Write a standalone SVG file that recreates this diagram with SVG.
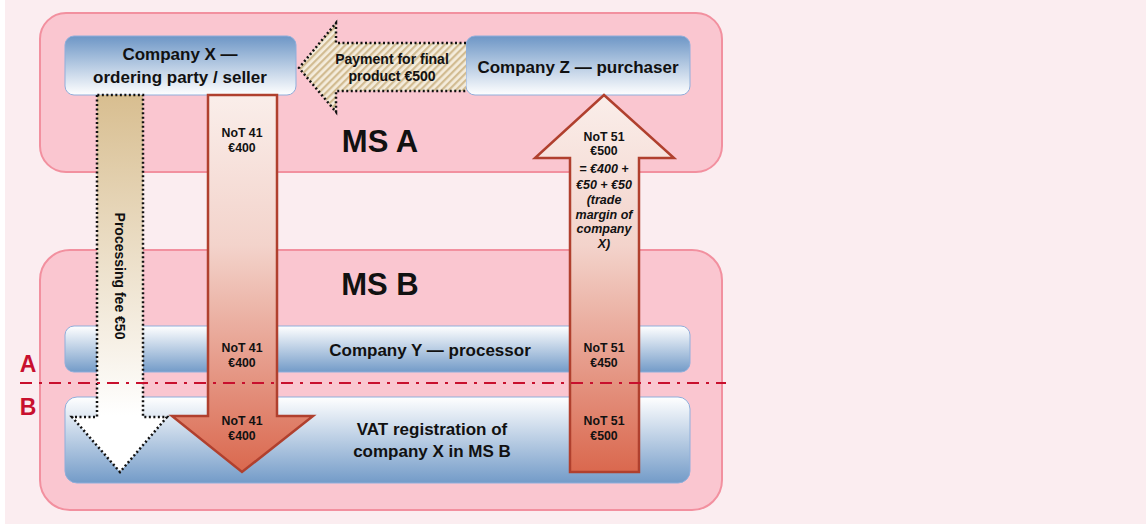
<svg xmlns="http://www.w3.org/2000/svg" width="1146" height="524" viewBox="0 0 1146 524">
<style>
text{font-family:"Liberation Sans",Arial,sans-serif;font-weight:bold;fill:#111;text-anchor:middle}
.ms{fill:#FAC6D0;stroke:#F2909F;stroke-width:2}
.nodeTop{fill:url(#gTop);stroke:#8FAEDB;stroke-width:1}
.nodeBot{fill:url(#gBot);stroke:#8FAEDB;stroke-width:1}
.big{font-size:17px}
.sm{font-size:12.3px}
.mid{font-size:14px}
.it{font-size:12.5px;font-style:italic}
.title{font-size:31px}
.red{stroke:#B0402E;stroke-width:2.5}
.dotted{stroke:#111;stroke-width:2.5;stroke-dasharray:2 2.5}
.lbl{font-size:23px;fill:#C8102E}
</style>
<defs>
<linearGradient id="gTop" x1="0" y1="0" x2="0" y2="1"><stop offset="0" stop-color="#6D96C6"/><stop offset="1" stop-color="#FFFFFF"/></linearGradient>
<linearGradient id="gBot" x1="0" y1="0" x2="0" y2="1"><stop offset="0" stop-color="#FFFFFF"/><stop offset="1" stop-color="#739BC8"/></linearGradient>
<linearGradient id="gRed" gradientUnits="userSpaceOnUse" x1="0" y1="95" x2="0" y2="472"><stop offset="0" stop-color="#FAEEEA"/><stop offset="0.4" stop-color="#F3D3CB"/><stop offset="1" stop-color="#DA684E"/></linearGradient>
<linearGradient id="gTan" gradientUnits="userSpaceOnUse" x1="0" y1="95" x2="0" y2="472"><stop offset="0" stop-color="#D8BE90"/><stop offset="0.85" stop-color="#FFFFFF"/><stop offset="1" stop-color="#FFFFFF"/></linearGradient>
<pattern id="hatch" width="5" height="5" patternUnits="userSpaceOnUse" patternTransform="rotate(45)"><rect width="5" height="5" fill="#F4ECDC"/><rect width="2.2" height="5" fill="#D2BC92"/></pattern>
</defs>
<rect x="5" y="0" width="1141" height="524" fill="#FBEDF0"/>
<g id="msA"><rect class="ms" x="40" y="13" width="682" height="159" rx="26"/><text class="title" x="380" y="152">MS A</text></g>
<g id="msB"><rect class="ms" x="40" y="250" width="682" height="260" rx="30"/><text class="title" x="380" y="295">MS B</text></g>
<g id="companyY"><rect class="nodeBot" x="65" y="326" width="625" height="46" rx="9"/><text class="big" x="430" y="356">Company Y — processor</text></g>
<g id="vatReg"><rect class="nodeBot" x="65" y="397" width="625" height="86" rx="12"/><text class="big" x="432" y="435">VAT registration of</text><text class="big" x="432" y="457">company X in MS B</text></g>
<g id="companyX"><rect class="nodeTop" x="65" y="36" width="231" height="59" rx="9"/><text class="big" x="180" y="60">Company X —</text><text class="big" x="180" y="83">ordering party / seller</text></g>
<g id="companyZ"><rect class="nodeTop" x="466" y="36" width="224" height="59" rx="9"/><text class="big" x="578" y="73">Company Z — purchaser</text></g>
<g id="connectors">
<g id="payment"><path d="M466,43 L336,43 L336,23 L299,68 L336,112 L336,91 L466,91" fill="url(#hatch)" class="dotted"/><text class="mid" x="392" y="64">Payment for final</text><text class="mid" x="392" y="81">product €500</text></g>
<g id="processingFee"><path d="M97,95 L97,417 L72,417 L120,472 L167,417 L143,417 L143,95 Z" fill="url(#gTan)" class="dotted"/><text class="mid" transform="translate(120,276) rotate(90)" y="5">Processing fee €50</text></g>
<g id="not41"><path d="M208,95 L208,416 L172,416 L242,472 L313,416 L277,416 L277,95 Z" fill="url(#gRed)" class="red"/>
<text class="sm" x="242" y="137">NoT 41</text><text class="sm" x="242" y="152">€400</text>
<text class="sm" x="242" y="352">NoT 41</text><text class="sm" x="242" y="367">€400</text>
<text class="sm" x="242" y="425">NoT 41</text><text class="sm" x="242" y="440">€400</text></g>
<g id="not51"><path d="M570,472 L570,158 L535,158 L604,95 L674,158 L639,158 L639,472 Z" fill="url(#gRed)" class="red"/>
<text class="sm" x="604" y="141">NoT 51</text><text class="sm" x="604" y="155">€500</text>
<text class="it" x="604" y="173">= €400 +</text><text class="it" x="604" y="189">€50 + €50</text><text class="it" x="604" y="204">(trade</text><text class="it" x="604" y="219">margin of</text><text class="it" x="604" y="233">company</text><text class="it" x="604" y="248">X)</text>
<text class="sm" x="604" y="352">NoT 51</text><text class="sm" x="604" y="367">€450</text>
<text class="sm" x="604" y="425">NoT 51</text><text class="sm" x="604" y="440">€500</text></g>
</g>
<g id="boundary">
<line x1="20" y1="383" x2="726" y2="383" stroke="#C8102E" stroke-width="2" stroke-dasharray="12 7 3 7"/>
<text class="lbl" x="28" y="372">A</text>
<text class="lbl" x="28" y="415">B</text>
</g>
</svg>
